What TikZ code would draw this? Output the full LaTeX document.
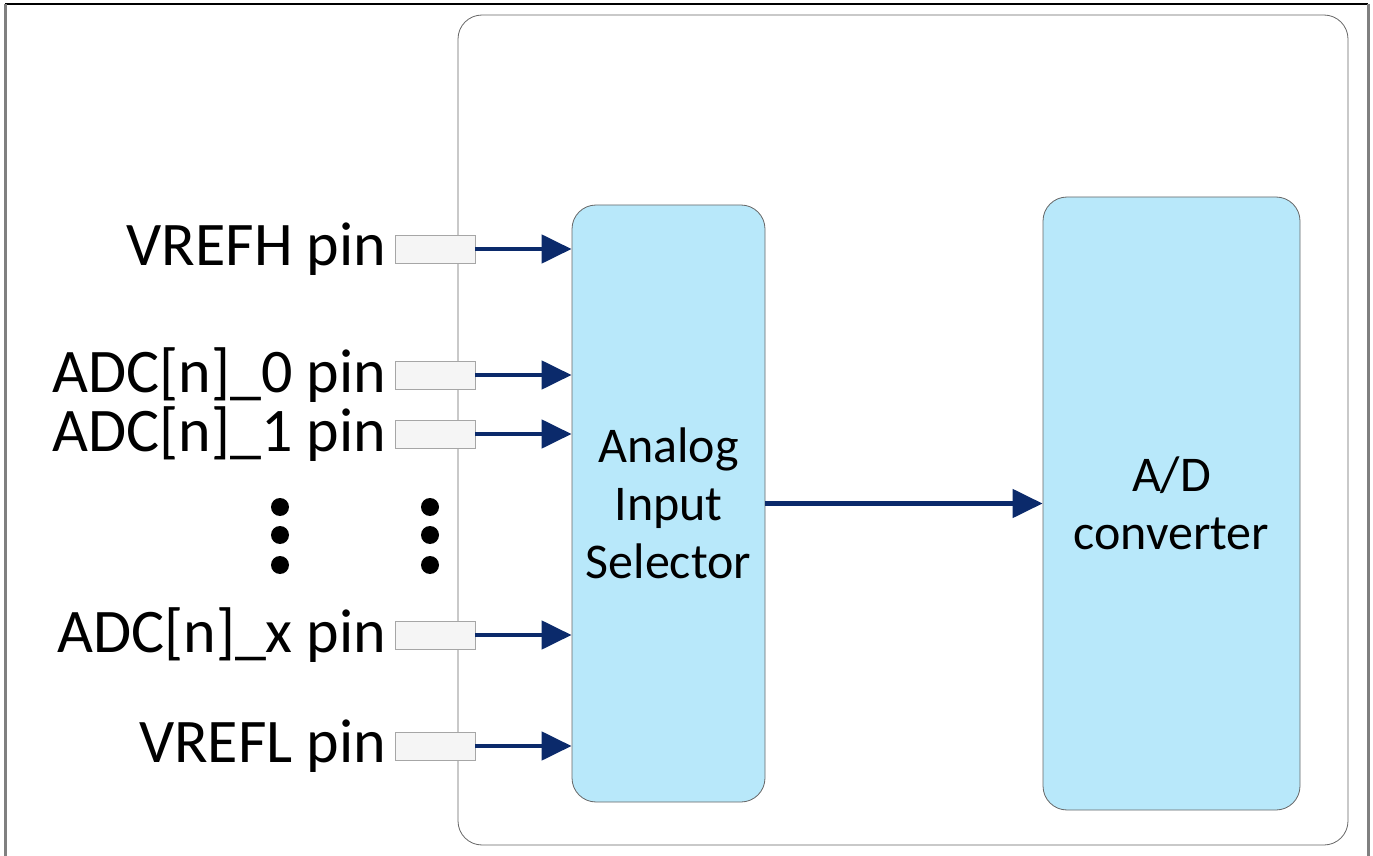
\documentclass[tikz,border=0pt]{standalone}
\usepackage{fontspec}
\setmainfont{Carlito}
\usetikzlibrary{positioning,arrows.meta}
\definecolor{selblue}{HTML}{B8E8FA}
\definecolor{sigblue}{HTML}{0B2A6B}
\tikzset{
  pinbox/.style={draw=gray!70, fill=gray!8, minimum width=40pt, minimum height=14pt, inner sep=0pt},
  pinlabel/.style={inner sep=0pt, font=\fontsize{31}{36}\selectfont},
  block/.style={draw=gray!80!black, fill=selblue, rounded corners=12pt, align=center, font=\fontsize{25}{29}\selectfont},
  sig/.style={draw=sigblue, line width=2.4pt, -{Triangle[length=15pt,width=14pt]}},
  dot/.style={circle, fill=black, inner sep=0pt, minimum size=9pt}
}
\begin{document}
\begin{tikzpicture}[x=0.5pt,y=-0.5pt]
\useasboundingbox (0,0) rectangle (1373,856);
\draw[black, line width=1pt] (5,4) -- (1368,4);
\draw[gray, line width=1.5pt] (5,4) -- (5,856) (1368,4) -- (1368,856);
\node[draw=gray!80!black, rounded corners=12pt, minimum width=445pt, minimum height=415pt] (chip) at (903,430) {};
\node[block, minimum width=96.5pt, minimum height=298.5pt] (sel) at (668.5,503.5) {Analog\\Input\\Selector};
\node[block, minimum width=128.5pt, minimum height=306.5pt] (adc) at (1171.5,503.5) {A/D\\converter};
% input pins
\foreach \n/\y/\t in {vrefh/249/VREFH pin, ain0/375/ADC[n]\_0 pin, ain1/434/ADC[n]\_1 pin,
                      ainx/635/ADC[n]\_x pin, vrefl/746/VREFL pin} {
  \node[pinbox] (\n) at (435,\y) {};
  \node[pinlabel, left=4pt of \n] (\n-lbl) {\t};
  \draw[sig] (\n.east) -- (sel.west |- \n.east);
}
\foreach \y in {507,535,565} {
  \node[dot] (dl-\y) at (280,\y) {};
  \node[dot] (dr-\y) at (430,\y) {};
}
\draw[sig] (sel.east) -- (adc.west);
\end{tikzpicture}
\end{document}
